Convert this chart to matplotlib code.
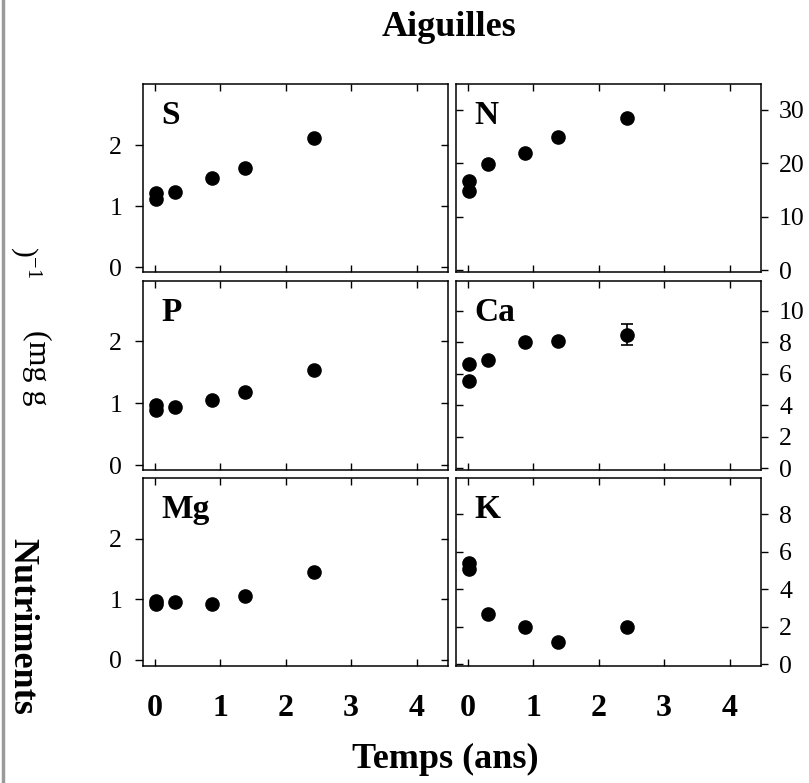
import matplotlib
matplotlib.use("Agg")
import matplotlib.pyplot as plt
from matplotlib.lines import Line2D

plt.rcParams['font.family'] = ['Liberation Serif', 'DejaVu Serif']
plt.rcParams['mathtext.fontset'] = 'custom'
plt.rcParams['mathtext.rm'] = 'Liberation Serif'

# ---- data ----
times = [0.02, 0.02, 0.31, 0.87, 1.38, 2.44]
S = [1.22, 1.11, 1.23, 1.46, 1.63, 2.11]
N = [16.7, 14.8, 19.9, 22.0, 24.9, 28.5]
P = [0.97, 0.89, 0.94, 1.05, 1.18, 1.54]
Ca = [6.64, 5.53, 6.91, 8.02, 8.10, 8.49]
Ca_err = [0, 0, 0, 0, 0, 0.68]
Mg = [0.97, 0.93, 0.96, 0.92, 1.05, 1.45]
K = [5.43, 5.09, 2.68, 1.98, 1.16, 2.00]

x_ticks = [0, 1, 2, 3, 4]
left_ticks = [0, 1, 2]
N_ticks = [0, 10, 20, 30]
Ca_ticks = [0, 2, 4, 6, 8, 10]
K_ticks = [0, 2, 4, 6, 8]

W, H = 809, 783
fig = plt.figure(figsize=(W / 100, H / 100), dpi=100)

colx = [143, 456]
colw = 305
rows = [(84, 272), (281, 470), (478, 666)]

panels = [
    ("S", S, None, left_ticks, (-0.08, 3.0), 0),
    ("N", N, None, N_ticks, (-0.3, 34.8), 1),
    ("P", P, None, left_ticks, (-0.08, 2.97), 0),
    ("Ca", Ca, Ca_err, Ca_ticks, (-0.1, 11.9), 1),
    ("Mg", Mg, None, left_ticks, (-0.1, 3.0), 0),
    ("K", K, None, K_ticks, (-0.1, 9.95), 1),
]

for i, (name, vals, err, yt, ylim, col) in enumerate(panels):
    r = i // 2
    top, bot = rows[r]
    ax = fig.add_axes([colx[col] / W, 1 - bot / H, colw / W, (bot - top) / H])
    if err is not None:
        ax.errorbar(times, vals, yerr=err, fmt='o', color='black', ms=9.5,
                    capsize=4, elinewidth=1.2, capthick=1.2)
    else:
        ax.plot(times, vals, 'o', color='black', ms=9.5)
    ax.set_xlim(-0.18, 4.48)
    ax.set_ylim(*ylim)
    for sp in ax.spines.values():
        sp.set_linewidth(1.1)
    # x ticks inward top & bottom
    ax.tick_params(axis='x', direction='in', top=True, bottom=True,
                   length=5, width=1.0, pad=20)
    if r == 2:
        ax.set_xticks(x_ticks, [str(t) for t in x_ticks],
                      fontweight='bold', fontsize=23)
    else:
        ax.set_xticks(x_ticks, [''] * len(x_ticks))
    # y ticks
    ax.set_yticks(yt)
    if col == 0:
        ax.tick_params(axis='y', direction='out', left=True, right=False,
                       labelleft=True, labelright=False, length=6, width=1.0,
                       pad=9, labelsize=18.5)
        sec = ax.secondary_yaxis('right')
        sec.set_yticks(yt, [''] * len(yt))
        sec.tick_params(direction='in', length=5, width=1.0)
        sec.spines['right'].set_visible(False)
    else:
        ax.yaxis.tick_right()
        ax.tick_params(axis='y', direction='out', left=False, right=True,
                       labelleft=False, labelright=True, length=5, width=1.0,
                       pad=8, labelsize=18.5)
        sec = ax.secondary_yaxis('left')
        sec.set_yticks(yt, [''] * len(yt))
        sec.tick_params(direction='in', length=5, width=1.0)
        sec.spines['left'].set_visible(False)
    ax.text(0.06, 0.915, name, transform=ax.transAxes, ha='left', va='top',
            fontsize=24, fontweight='bold')

# titles
fig.text(449 / W, 1 - 36 / H, "Aiguilles", ha='center', va='baseline',
         fontsize=26, fontweight='bold')
fig.text(445 / W, 1 - 768 / H, "Temps (ans)", ha='center', va='baseline',
         fontsize=26, fontweight='bold')

# y label pieces (as in the scanned figure)
fig.text(22 / W, 1 - 626 / H, "Nutriments", rotation=270, ha='center',
         va='center', fontsize=26, fontweight='bold')
fig.text(37 / W, 1 - 368 / H, "(mg g", rotation=270, ha='center',
         va='center', fontsize=23)
fig.text(26 / W, 1 - 262 / H, r")$^{-1}$", rotation=270, ha='center',
         va='center', fontsize=21)

# scan edge
fig.add_artist(Line2D([2.5 / W, 2.5 / W], [0, 1], transform=fig.transFigure,
                      color='#9a9a9a', lw=2.5))

fig.savefig("out.png", dpi=100)
